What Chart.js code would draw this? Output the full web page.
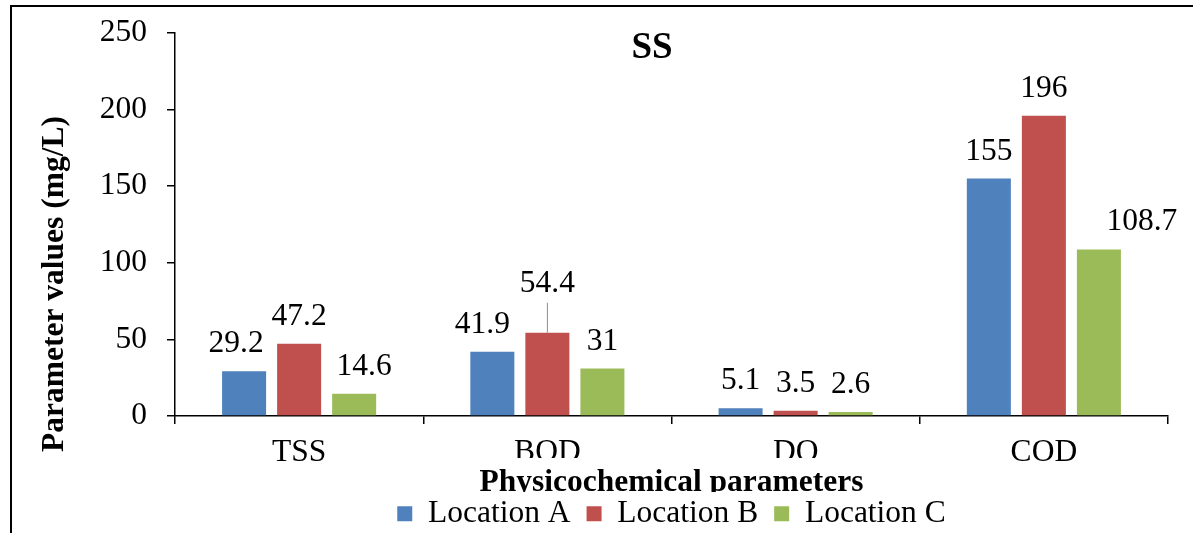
<!DOCTYPE html>
<html lang="en">
<head>
<meta charset="UTF-8">
<title>SS</title>
<script src="https://cdn.jsdelivr.net/npm/chart.js"></script>
<style>
  html, body { margin: 0; padding: 0; background: #fff; }
  #wrap { width: 1193px; height: 533px; }
</style>
</head>
<body>
<div id="wrap"><canvas id="ss-chart"></canvas></div>
<script>
// chart data
const categories = ['TSS', 'BOD', 'DO', 'COD'];
const locationA = [29.2, 41.9, 5.1, 155];
const locationB = [47.2, 54.4, 3.5, 196];
const locationC = [14.6, 31, 2.6, 108.7];
const yTicks = [0, 50, 100, 150, 200, 250];

const serif = '"Liberation Serif", "Times New Roman", serif';
const fs = 31.5;

// a few labels are moved a bit so they don't collide (dataset-index)
const labelNudge = { '0-0': [-8, 0], '2-0': [10, 0], '0-1': [-10, 0], '1-1': [0, -22], '2-3': [43, 0] };

const dataLabels = {
    id: 'dataLabels',
    afterDatasetsDraw(chart) {
        const ctx = chart.ctx;
        ctx.save();
        ctx.font = fs + 'px ' + serif;
        ctx.fillStyle = '#000';
        ctx.textAlign = 'center';
        ctx.textBaseline = 'alphabetic';
        chart.data.datasets.forEach((ds, d) => {
            chart.getDatasetMeta(d).data.forEach((bar, i) => {
                const nudge = labelNudge[d + '-' + i] || [0, 0];
                const y = bar.y - 19 + nudge[1];
                if (nudge[1] < 0) {
                    // leader line
                    ctx.strokeStyle = '#8c8c8c';
                    ctx.lineWidth = 1;
                    ctx.beginPath();
                    ctx.moveTo(bar.x, y + 11);
                    ctx.lineTo(bar.x, bar.y);
                    ctx.stroke();
                }
                ctx.fillText(String(ds.data[i]), bar.x + nudge[0], y);
            });
        });
        ctx.restore();
    }
};

const extras = {
    id: 'extras',
    afterDraw(chart) {
        const ctx = chart.ctx;
        const w = chart.width, h = chart.height;
        ctx.save();
        ctx.fillStyle = '#fff';
        // axis title box sits over the middle tick labels
        ctx.fillRect(440, 458, 465, 9);
        // legend box covers the bottom of the axis title
        ctx.fillRect(13, 492, w - 13, h - 492);
        ctx.restore();
        chart.legend.draw();

        ctx.save();
        ctx.fillStyle = '#000';
        // chart title
        ctx.font = 'bold 37px ' + serif;
        ctx.textAlign = 'center';
        ctx.textBaseline = 'alphabetic';
        ctx.fillText('SS', 652, 58);
        // y axis title
        ctx.font = 'bold ' + fs + 'px ' + serif;
        ctx.translate(63, 284);
        ctx.rotate(-Math.PI / 2);
        ctx.fillText('Parameter values (mg/L)', 0, 0);
        ctx.restore();

        // outer frame
        ctx.save();
        ctx.strokeStyle = '#000';
        ctx.lineWidth = 2;
        ctx.beginPath();
        ctx.moveTo(11, h);
        ctx.lineTo(11, 6);
        ctx.lineTo(w, 6);
        ctx.stroke();
        ctx.restore();
    }
};

const ctx = document.getElementById('ss-chart').getContext('2d');
new Chart(ctx, {
    type: 'bar',
    data: {
        labels: categories,
        datasets: [
            { label: 'Location A', data: locationA, backgroundColor: '#4F81BD' },
            { label: 'Location B', data: locationB, backgroundColor: '#C0504D' },
            { label: 'Location C', data: locationC, backgroundColor: '#9BBB59' }
        ]
    },
    options: {
        responsive: true,
        maintainAspectRatio: false,
        animation: false,
        categoryPercentage: 0.665,
        barPercentage: 0.8,
        layout: { padding: { left: 20, right: 25, top: 33, bottom: -6.5 } },
        plugins: {
            legend: {
                position: 'bottom',
                fullSize: false,
                labels: {
                    font: { family: serif, size: fs },
                    color: '#000',
                    boxWidth: 15,
                    boxHeight: 15,
                    padding: 16
                }
            },
            title: { display: false },
            tooltip: { enabled: false }
        },
        scales: {
            x: {
                afterFit: s => { s.height = 66; },
                grid: { display: true, drawOnChartArea: false, drawTicks: true, tickLength: 8, color: '#000', lineWidth: 1.5 },
                border: { display: true, color: '#000', width: 1.5 },
                ticks: { color: '#000', padding: 10, font: { family: serif, size: fs } },
                title: {
                    display: true,
                    text: 'Physicochemical parameters',
                    color: '#000',
                    font: { family: serif, size: fs, weight: 'bold' },
                    padding: { top: 0, bottom: -20 }
                }
            },
            y: {
                min: 0,
                max: 250,
                afterFit: s => { s.width = 155; s.paddingTop = 0; s.paddingBottom = 0; },
                afterBuildTicks: s => { s.ticks = yTicks.map(v => ({ value: v })); },
                grid: { display: true, drawOnChartArea: false, drawTicks: true, tickLength: 8, color: '#000', lineWidth: 1.5 },
                border: { display: true, color: '#000', width: 1.5 },
                ticks: { color: '#000', padding: 20, font: { family: serif, size: fs } }
            }
        }
    },
    plugins: [dataLabels, extras]
});
</script>
</body>
</html>
